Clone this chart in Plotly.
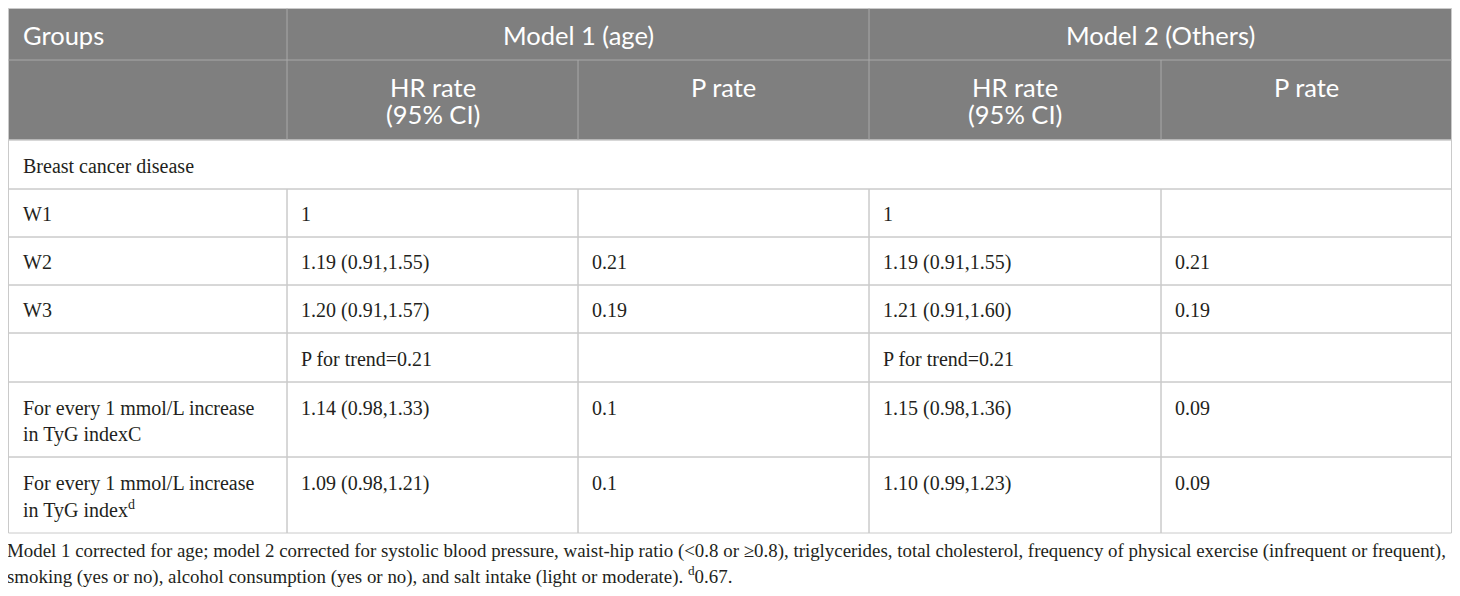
import plotly.graph_objects as go

# ---------------- data ----------------
header_top = ["Groups", "Model 1 (age)", "Model 2 (Others)"]
header_sub = ["HR rate<br>(95% CI)", "P rate", "HR rate<br>(95% CI)", "P rate"]
section_label = "Breast cancer disease"
groups = ["W1", "W2", "W3", "",
          "For every 1 mmol/L increase<br>in TyG indexC",
          "For every 1 mmol/L increase<br>in TyG index<sup>d</sup>"]
m1_hr = ["1", "1.19 (0.91,1.55)", "1.20 (0.91,1.57)", "P for trend=0.21",
         "1.14 (0.98,1.33)", "1.09 (0.98,1.21)"]
m1_p = ["", "0.21", "0.19", "", "0.1", "0.1"]
m2_hr = ["1", "1.19 (0.91,1.55)", "1.21 (0.91,1.60)", "P for trend=0.21",
         "1.15 (0.98,1.36)", "1.10 (0.99,1.23)"]
m2_p = ["", "0.21", "0.19", "", "0.09", "0.09"]
footnote = [
    "Model 1 corrected for age; model 2 corrected for systolic blood pressure, waist-hip ratio (<0.8 or ≥0.8), triglycerides, total cholesterol, frequency of physical exercise (infrequent or frequent),",
    "smoking (yes or no), alcohol consumption (yes or no), and salt intake (light or moderate). <sup>d</sup>0.67.",
]

# ---------------- layout geometry (screen pixel coordinates) ----------------
PAGE_MARGIN = 8          # default body margin of the html page
WIN_W, WIN_H = 1460, 596
FIG_W, FIG_H = WIN_W - 2 * PAGE_MARGIN, WIN_H - 2 * PAGE_MARGIN
col_edges = [8.5, 287, 578, 869, 1161, 1451.5]
head_edges = [8.5, 60, 140]
body_edges = [140, 189, 237, 285, 333, 382, 457, 533]
HEAD_BG = "#7f7f7f"
GRID = "#cacaca"
HEAD_GRID = "#a9a9a9"
TXT = "#231f20"
SANS = "Lato, 'Open Sans', sans-serif"
SERIF = "'Liberation Serif', 'DejaVu Serif', serif"
HEAD_SIZE = 25.5
BODY_SIZE = 20
FOOT_SIZE = 18.9
PAD = 12

shapes = []
ann = []


def rect(x0, y0, x1, y1, fill=None, line=GRID, lw=1):
    shapes.append(dict(type="rect", xref="x", yref="y", x0=x0, y0=y0, x1=x1, y1=y1,
                       fillcolor=fill if fill else "rgba(0,0,0,0)",
                       line=dict(color=line, width=lw), layer="below"))


def vline(x, y0, y1, color):
    shapes.append(dict(type="line", xref="x", yref="y", x0=x, x1=x, y0=y0, y1=y1,
                       line=dict(color=color, width=1)))


def hline(y, x0, x1, color):
    shapes.append(dict(type="line", xref="x", yref="y", x0=x0, x1=x1, y0=y, y1=y,
                       line=dict(color=color, width=1)))


def text(x, y, s, font, size, color, xanchor="left", xshift=0):
    ann.append(dict(x=x, y=y, xref="x", yref="y", text=s, showarrow=False,
                    xanchor=xanchor, yanchor="middle", xshift=xshift,
                    font=dict(family=font, size=size, color=color)))


# ---- header ----
rect(col_edges[0], head_edges[0], col_edges[-1], head_edges[-1], fill=HEAD_BG, line=GRID)
hline(head_edges[1], col_edges[0], col_edges[-1], HEAD_GRID)
for xe in [col_edges[1], col_edges[3]]:
    vline(xe, head_edges[0], head_edges[2], HEAD_GRID)
for xe in [col_edges[2], col_edges[4]]:
    vline(xe, head_edges[1], head_edges[2], HEAD_GRID)

h1_mid = (head_edges[0] + head_edges[1]) / 2 + 0.5
text(col_edges[0] + PAD, h1_mid, header_top[0], SANS, HEAD_SIZE, "white")
text((col_edges[1] + col_edges[3]) / 2, h1_mid, header_top[1], SANS, HEAD_SIZE, "white", "center")
text((col_edges[3] + col_edges[5]) / 2, h1_mid, header_top[2], SANS, HEAD_SIZE, "white", "center")
for j, s in enumerate(header_sub):
    cx = (col_edges[j + 1] + col_edges[j + 2]) / 2
    for k, part in enumerate(s.split("<br>")):
        text(cx, head_edges[1] + 27 + k * 27, part, SANS, HEAD_SIZE, "white", "center")

# ---- body ----
rect(col_edges[0], body_edges[0], col_edges[-1], body_edges[1])
text(col_edges[0] + PAD, (body_edges[0] + body_edges[1]) / 2 + 1, section_label, SERIF, BODY_SIZE, TXT)

cols = [groups, m1_hr, m1_p, m2_hr, m2_p]
for i in range(len(groups)):
    top, bot = body_edges[i + 1], body_edges[i + 2]
    multi = any("<br>" in c[i] for c in cols)
    for j, col in enumerate(cols):
        rect(col_edges[j], top, col_edges[j + 1], bot)
        s = col[i]
        if not s:
            continue
        x = col_edges[j] + PAD
        if multi:
            for k, part in enumerate(s.split("<br>")):
                text(x, top + 26 + k * 26, part, SERIF, BODY_SIZE, TXT)
        else:
            text(x, (top + bot) / 2 + 1, s, SERIF, BODY_SIZE, TXT)

# ---- footnote ----
for k, s in enumerate(footnote):
    text(PAGE_MARGIN + 0.5, 551 + k * 24, s, SERIF, FOOT_SIZE, TXT, xshift=-4)

fig = go.Figure()
fig.update_layout(
    width=FIG_W, height=FIG_H, margin=dict(l=0, r=0, t=0, b=0, pad=0),
    paper_bgcolor="white", plot_bgcolor="white",
    xaxis=dict(range=[PAGE_MARGIN, PAGE_MARGIN + FIG_W], visible=False, fixedrange=True),
    yaxis=dict(range=[PAGE_MARGIN + FIG_H, PAGE_MARGIN], visible=False, fixedrange=True),
    shapes=shapes, annotations=ann, showlegend=False,
)
fig.write_html("out.html", config={"displayModeBar": False})
